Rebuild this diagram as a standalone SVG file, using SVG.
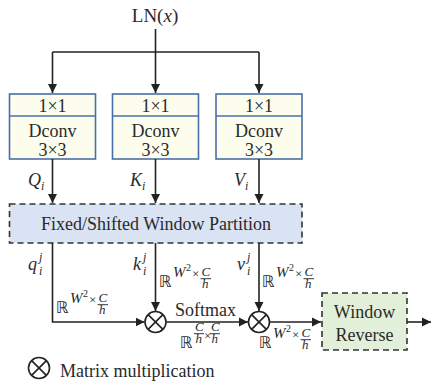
<svg xmlns="http://www.w3.org/2000/svg" xmlns:xlink="http://www.w3.org/1999/xlink" width="432" height="388" viewBox="0 0 432 388">
<style>
text{font-family:"Liberation Serif","Times New Roman",serif;fill:#2a2a2a;}
.t{font-size:18px;}
.m{font-style:italic;font-size:18px;}
.sub{font-style:italic;font-size:12px;}
.line{stroke:#222;stroke-width:1.6;fill:none;}
.arr{marker-end:url(#ah);}
.conv{fill:#fdfdee;stroke:#4a6fa8;stroke-width:1.6;}
.part{fill:#dae3f3;stroke:#333;stroke-width:1.6;stroke-dasharray:6 4;}
.wr{fill:#e2efd9;stroke:#333;stroke-width:1.6;stroke-dasharray:6 4;}
.mul{fill:#fff;stroke:#222;stroke-width:1.6;}
.bb{font-family:"DejaVu Sans","DejaVu Serif",sans-serif;font-size:16px;fill:#2a2a2a;}
.s{font-size:15px;font-style:italic;}
.s2{font-size:10px;}
.x{font-size:13px;}
.sf{font-size:13px;font-style:italic;}
</style>
<defs>
<marker id="ah" viewBox="0 0 10 10" refX="10" refY="5" markerWidth="9" markerHeight="10" markerUnits="userSpaceOnUse" orient="auto">
<path d="M0,0 L10,5 L0,10 z" fill="#222"/>
</marker>
<g id="otimes">
<circle cx="0" cy="0" r="10.5" class="mul"/>
<path d="M-7.4,-7.4 L7.4,7.4 M7.4,-7.4 L-7.4,7.4" class="line"/>
</g>
<g id="rw">
<text x="0" y="0" class="bb">ℝ</text>
<text x="14" y="-10" class="s">W</text>
<text x="27" y="-16" class="s2">2</text>
<text x="33" y="-9" class="x">×</text>
<text x="42.5" y="-11" class="sf">C</text>
<line x1="41.5" y1="-8.3" x2="52" y2="-8.3" stroke="#222" stroke-width="0.9"/>
<text x="43" y="1" class="sf">h</text>
</g>
<g id="fr">
<text x="0" y="-11" class="sf">C</text>
<line x1="-1" y1="-8.3" x2="9" y2="-8.3" stroke="#222" stroke-width="0.9"/>
<text x="0.5" y="1" class="sf">h</text>
</g>
</defs>

<g id="input"><text x="155" y="22" text-anchor="middle" style="font-size:19px">LN(<tspan font-style="italic">x</tspan>)</text></g>

<g id="conv-q">
<rect x="9.5" y="94" width="86" height="65" class="conv"/>
<line x1="9.5" y1="116" x2="95.5" y2="116" stroke="#4a6fa8" stroke-width="1.6"/>
<text x="52.5" y="112" text-anchor="middle" class="t">1×1</text>
<text x="52.5" y="137" text-anchor="middle" class="t">Dconv</text>
<text x="52.5" y="155.5" text-anchor="middle" class="t">3×3</text>
</g>
<g id="conv-k">
<rect x="112.5" y="94" width="86" height="65" class="conv"/>
<line x1="112.5" y1="116" x2="198.5" y2="116" stroke="#4a6fa8" stroke-width="1.6"/>
<text x="155.5" y="112" text-anchor="middle" class="t">1×1</text>
<text x="155.5" y="137" text-anchor="middle" class="t">Dconv</text>
<text x="155.5" y="155.5" text-anchor="middle" class="t">3×3</text>
</g>
<g id="conv-v">
<rect x="216" y="94" width="86" height="65" class="conv"/>
<line x1="216" y1="116" x2="302" y2="116" stroke="#4a6fa8" stroke-width="1.6"/>
<text x="259" y="112" text-anchor="middle" class="t">1×1</text>
<text x="259" y="137" text-anchor="middle" class="t">Dconv</text>
<text x="259" y="155.5" text-anchor="middle" class="t">3×3</text>
</g>

<g id="partition">
<rect x="9.5" y="204" width="292.5" height="39" class="part"/>
<text x="156" y="230" text-anchor="middle" class="t">Fixed/Shifted Window Partition</text>
</g>

<g id="mul1"><use xlink:href="#otimes" x="155.5" y="322"/></g>
<g id="mul2"><use xlink:href="#otimes" x="259" y="322"/></g>

<g id="window-reverse">
<rect x="322" y="293" width="85" height="57" class="wr"/>
<text x="364.5" y="318" text-anchor="middle" class="t">Window</text>
<text x="364.5" y="341" text-anchor="middle" class="t">Reverse</text>
</g>

<g id="connectors">
<path d="M155.5,29 V93" class="line arr"/>
<path d="M52.5,52 H259" class="line"/>
<path d="M52.5,52 V93" class="line arr"/>
<path d="M259,52 V93" class="line arr"/>
<path d="M52.5,159 V203" class="line arr"/>
<path d="M155.5,159 V203" class="line arr"/>
<path d="M259,159 V203" class="line arr"/>
<path d="M52.5,243 V322 H144.5" class="line arr"/>
<path d="M155.5,243 V311" class="line arr"/>
<path d="M166,322 H248" class="line arr"/>
<path d="M259,243 V311" class="line arr"/>
<path d="M269.5,322 H321" class="line arr"/>
<path d="M407,322 H431" class="line arr"/>
</g>

<g id="labels">
<text x="28" y="186" class="m">Q</text><text x="41" y="190" class="sub">i</text>
<text x="130" y="186" class="m">K</text><text x="142" y="190" class="sub">i</text>
<text x="234" y="186" class="m">V</text><text x="245" y="190" class="sub">i</text>
<text x="28" y="270" class="m">q</text><text x="39" y="261" class="sub">j</text><text x="39" y="275" class="sub">i</text>
<text x="133" y="270" class="m">k</text><text x="143" y="261" class="sub">j</text><text x="143" y="275" class="sub">i</text>
<text x="237" y="270" class="m">v</text><text x="247" y="261" class="sub">j</text><text x="247" y="275" class="sub">i</text>
<use xlink:href="#rw" x="56" y="313"/>
<use xlink:href="#rw" x="159" y="287"/>
<use xlink:href="#rw" x="262" y="287"/>
<use xlink:href="#rw" x="259" y="348"/>
<text x="175" y="316" class="t">Softmax</text>
<text x="180" y="348" class="bb">ℝ</text>
<use xlink:href="#fr" x="195" y="342"/>
<text x="204" y="340" class="x">×</text>
<use xlink:href="#fr" x="211" y="342"/>
</g>

<g id="legend">
<use xlink:href="#otimes" x="39" y="368"/>
<text x="60" y="377" class="t">Matrix multiplication</text>
</g>
</svg>
